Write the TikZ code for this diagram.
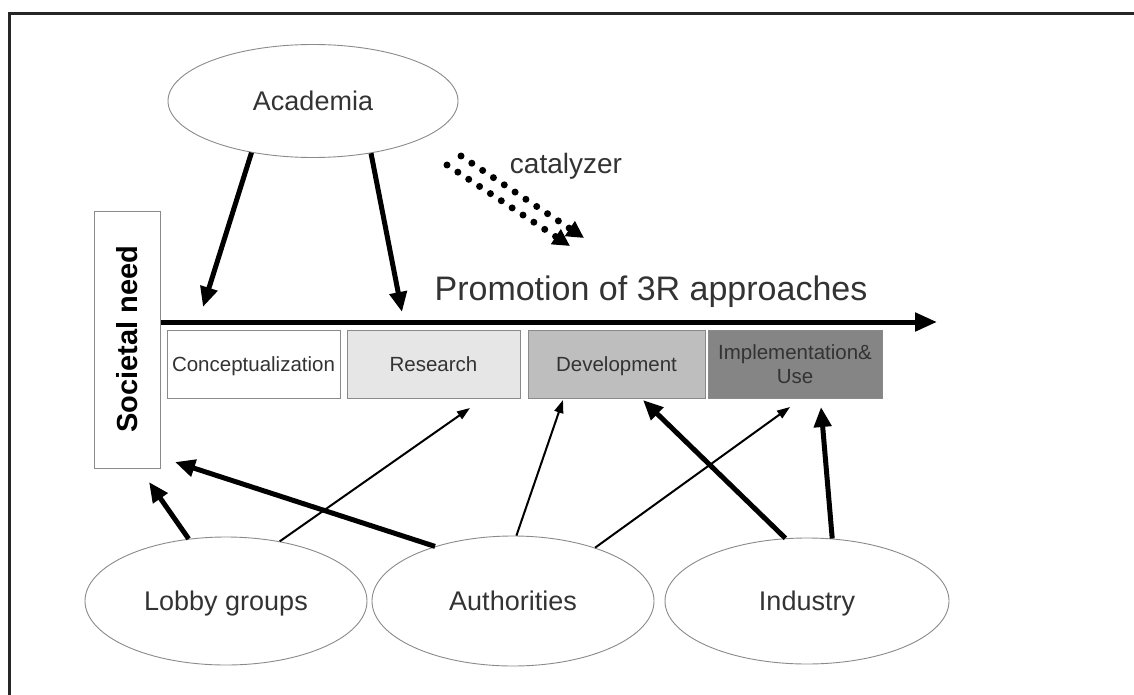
\documentclass[tikz,border=0pt]{standalone}
\usepackage{fontspec}
\setmainfont{Liberation Sans}
\usetikzlibrary{shapes.geometric,arrows.meta}
\definecolor{txt}{HTML}{333333}
\definecolor{bord}{HTML}{8A8A8A}
\definecolor{fillR}{HTML}{E6E6E6}
\definecolor{fillD}{HTML}{BEBEBE}
\definecolor{fillI}{HTML}{858585}
\tikzset{
  actor/.style={ellipse, draw=bord, line width=0.9pt, inner sep=0pt, text=txt, text height=19.3pt, text depth=0pt, font=\fontsize{27}{30}\selectfont},
  phase/.style={rectangle, draw=bord, line width=1pt, minimum height=68pt, inner sep=0pt, text=txt, align=center, font=\fontsize{20.5}{24}\selectfont},
  onephase/.style={phase, text height=14.7pt, text depth=0pt},
  thick arrow/.style={line width=5pt, -{Triangle[length=20pt,width=17pt]}, shorten >=0pt},
  thin arrow/.style={line width=2pt, -{Triangle[length=13pt,width=9pt]}},
  dotarrow/.style={line width=7pt, line cap=round, dash pattern=on 0pt off 13pt, -{Triangle[length=17pt,width=17pt,line cap=butt]}},
}
\begin{document}
\begin{tikzpicture}[x=1pt,y=-1pt]
\useasboundingbox (0,0) rectangle (1134,695);
% frame
\coordinate (fTR) at (1134,14);
\coordinate (fTL) at (9,14);
\coordinate (fBL) at (9,695);
\draw[line width=3pt, color=black!85] (fTR) -- (fTL) -- (fBL);

% actors
\node[actor, minimum width=290pt, minimum height=113pt] (Acad) at (313,101) {Academia};
\node[actor, minimum width=282pt, minimum height=128pt] (Lobby) at (226,601) {Lobby groups};
\node[actor, minimum width=282pt, minimum height=130pt] (Auth) at (513,601) {Authorities};
\node[actor, minimum width=284pt, minimum height=126pt] (Ind) at (807,601) {Industry};

% societal need
\node[rectangle, draw=bord, line width=1pt, minimum width=66pt, minimum height=257pt, inner sep=0pt] (SN) at (127,339.5) {};
\node[rotate=90, text height=20.8pt, text depth=0pt, font=\fontsize{29}{32}\selectfont\bfseries] (SNt) at (127,339) {Societal need};

% phases
\node[onephase, fill=white, minimum width=173pt] (Conc) at (253.5,364) {Conceptualization};
\node[onephase, fill=fillR, minimum width=173pt] (Res) at (433.5,364) {Research};
\node[onephase, fill=fillD, minimum width=177pt] (Dev) at (616.5,364) {Development};
\node[phase, fill=fillI, minimum width=174pt, text=black!80] (Impl) at (795,364) {Implementation\&\\Use};

% main arrow
\coordinate (mEnd) at (937,322);
\draw[line width=5pt, -{Triangle[length=22pt,width=18pt]}] (SN.east |- mEnd) -- (mEnd);
\node[text=txt, font=\fontsize{34}{38}\selectfont] (promo) at (651,292) {Promotion of 3R approaches};

% catalyzer
\node[text=txt, font=\fontsize{28}{32}\selectfont] (cat) at (566,166) {catalyzer};
\coordinate (cA1) at (461,156);
\coordinate (cA2) at (584,238);
\coordinate (cB1) at (447,165);
\coordinate (cB2) at (570,246);
\draw[dotarrow] (cA1) -- (cA2);
\draw[dotarrow] (cB1) -- (cB2);

% arrow ends
\coordinate (e1) at (203,307);
\coordinate (e2) at (402,312);
\coordinate (e3) at (149,482);
\coordinate (e4) at (175,462);
\coordinate (e5) at (643,400);
\coordinate (e6) at (821,407);
\coordinate (e7) at (470,408);
\coordinate (e8) at (563,400);
\coordinate (e9) at (790,407);

\draw[thick arrow] (Acad.220) -- (e1);
\draw[thick arrow] (Acad.318) -- (e2);
\draw[thick arrow] (Lobby.121) -- (e3);
\draw[thick arrow] (Auth.145) -- (e4);
\draw[thick arrow] (Ind.109) -- (e5);
\draw[thick arrow] (Ind.68) -- (e6);
\draw[thin arrow] (Lobby.48) -- (e7);
\draw[thin arrow] (Auth.87) -- (e8);
\draw[thin arrow] (Auth.33) -- (e9);
\end{tikzpicture}
\end{document}
